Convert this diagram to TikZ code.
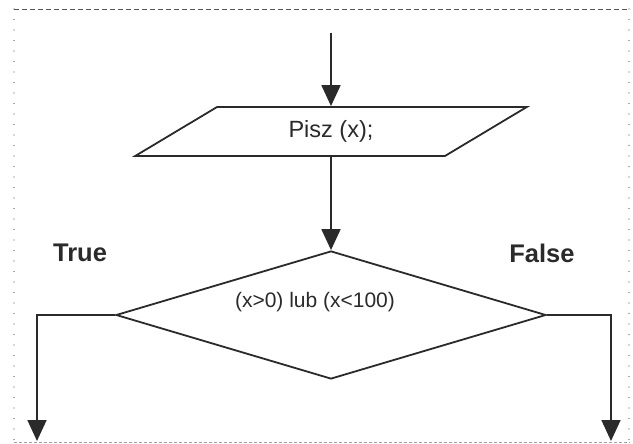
\documentclass[tikz,border=0pt]{standalone}
\usepackage{fontspec}
\setmainfont{Liberation Sans}
\usetikzlibrary{
  shapes,
  arrows.meta
}
\definecolor{ink}{HTML}{2A2A2A}
\definecolor{frame}{HTML}{555555}

\begin{document}
\begin{tikzpicture}[
  x=1pt, y=-1pt,
  color=ink, line width=1.8pt, line join=miter,
  io/.style = {trapezium, draw, trapezium left angle=35.7,
    trapezium right angle=144.3, trapezium stretches=true,
    minimum width=392pt, minimum height=49pt, inner sep=0pt,
    font=\fontsize{23.5}{23.5}\selectfont},
  decision/.style = {diamond, draw, minimum width=430pt,
    minimum height=128pt, inner sep=0pt},
  flow/.style = {-{Triangle[length=21pt,width=19pt]}},
  branch/.style = {inner sep=0pt, font=\bfseries\fontsize{25.5}{25.5}\selectfont}]
  \useasboundingbox (0,0) rectangle (633,444);
  \draw[frame, line width=0.9pt, dash pattern=on 5pt off 3pt] (14,9) -- (630,9);
  \draw[frame!55, line width=0.8pt, dash pattern=on 3pt off 2pt] (14,442) -- (630,442);
  \draw[frame, line width=1.4pt, line cap=round, dash pattern=on 0pt off 10.5pt] (14,9) -- (14,442);
  \draw[frame, line width=1.4pt, line cap=round, dash pattern=on 0pt off 10.5pt] (629,9) -- (629,442);

  \coordinate (start) at (331,33);
  \node[io] (pisz) at (331,131.5) {Pisz (x);};
  \node[decision] (cond) at (331,315) {};
  \node[inner sep=0pt, font=\fontsize{21}{21}\selectfont] (condtext) at (315,302) {(x>0) lub (x<100)};
  \node[branch] (true) at (80,253) {True};
  \node[branch] (false) at (542,253) {False};
  \coordinate (tcorner) at (37,315);
  \coordinate (tend) at (37,441);
  \coordinate (fcorner) at (611,315);
  \coordinate (fend) at (611,441);

  \draw[flow] (start) -- (start |- pisz.north);
  \draw[flow] (pisz.south) -- (cond.north);
  \draw[flow] (cond.west) -- (tcorner) -- (tend);
  \draw[flow] (cond.east) -- (fcorner) -- (fend);
\end{tikzpicture}
\end{document}
